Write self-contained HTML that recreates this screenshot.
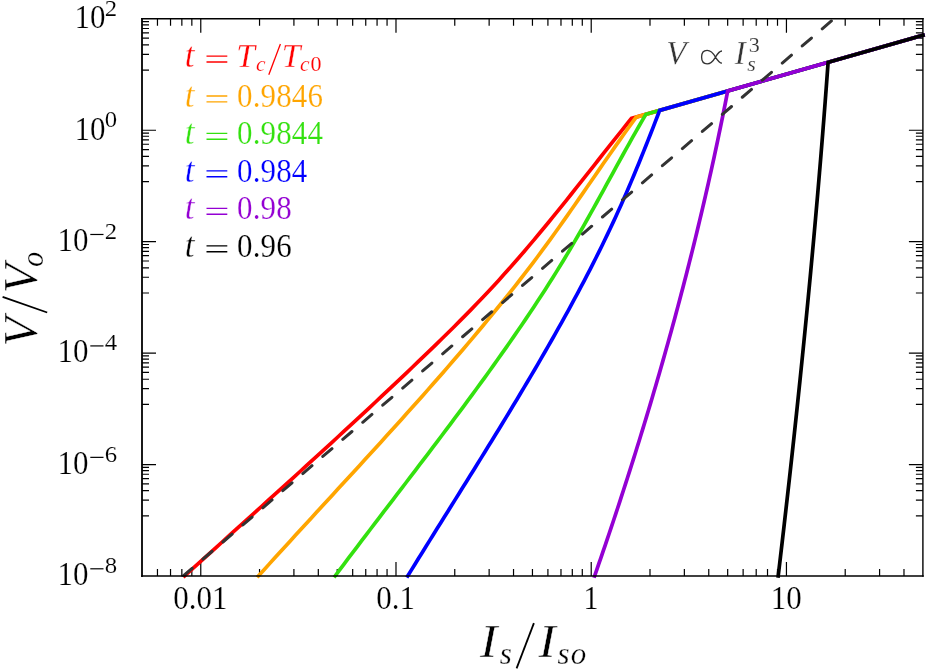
<!DOCTYPE html>
<html><head><meta charset="utf-8"><title>V-I characteristics</title>
<style>html,body{margin:0;padding:0;background:#fff;overflow:hidden;}svg{display:block;will-change:transform;}text{font-family:"Liberation Serif",serif;stroke:#fff;}.i{font-style:italic;}</style></head><body>
<svg width="926" height="670" viewBox="0 0 926 670">
<rect x="0" y="0" width="926" height="670" fill="#ffffff"/>
<g stroke="#000" stroke-width="1.2" fill="none">
<path d="M157.46,576.0 v-7.0 M157.46,18.8 v7.0"/>
<path d="M170.53,576.0 v-7.0 M170.53,18.8 v7.0"/>
<path d="M181.85,576.0 v-7.0 M181.85,18.8 v7.0"/>
<path d="M191.84,576.0 v-7.0 M191.84,18.8 v7.0"/>
<path d="M200.77,576.0 v-14.0 M200.77,18.8 v14.0"/>
<path d="M259.54,576.0 v-7.0 M259.54,18.8 v7.0"/>
<path d="M293.91,576.0 v-7.0 M293.91,18.8 v7.0"/>
<path d="M318.31,576.0 v-7.0 M318.31,18.8 v7.0"/>
<path d="M337.23,576.0 v-7.0 M337.23,18.8 v7.0"/>
<path d="M352.68,576.0 v-7.0 M352.68,18.8 v7.0"/>
<path d="M365.75,576.0 v-7.0 M365.75,18.8 v7.0"/>
<path d="M377.07,576.0 v-7.0 M377.07,18.8 v7.0"/>
<path d="M387.06,576.0 v-7.0 M387.06,18.8 v7.0"/>
<path d="M395.99,576.0 v-14.0 M395.99,18.8 v14.0"/>
<path d="M454.76,576.0 v-7.0 M454.76,18.8 v7.0"/>
<path d="M489.14,576.0 v-7.0 M489.14,18.8 v7.0"/>
<path d="M513.53,576.0 v-7.0 M513.53,18.8 v7.0"/>
<path d="M532.45,576.0 v-7.0 M532.45,18.8 v7.0"/>
<path d="M547.91,576.0 v-7.0 M547.91,18.8 v7.0"/>
<path d="M560.98,576.0 v-7.0 M560.98,18.8 v7.0"/>
<path d="M572.30,576.0 v-7.0 M572.30,18.8 v7.0"/>
<path d="M582.29,576.0 v-7.0 M582.29,18.8 v7.0"/>
<path d="M591.22,576.0 v-14.0 M591.22,18.8 v14.0"/>
<path d="M649.99,576.0 v-7.0 M649.99,18.8 v7.0"/>
<path d="M684.36,576.0 v-7.0 M684.36,18.8 v7.0"/>
<path d="M708.76,576.0 v-7.0 M708.76,18.8 v7.0"/>
<path d="M727.67,576.0 v-7.0 M727.67,18.8 v7.0"/>
<path d="M743.13,576.0 v-7.0 M743.13,18.8 v7.0"/>
<path d="M756.20,576.0 v-7.0 M756.20,18.8 v7.0"/>
<path d="M767.52,576.0 v-7.0 M767.52,18.8 v7.0"/>
<path d="M777.51,576.0 v-7.0 M777.51,18.8 v7.0"/>
<path d="M786.44,576.0 v-14.0 M786.44,18.8 v14.0"/>
<path d="M845.21,576.0 v-7.0 M845.21,18.8 v7.0"/>
<path d="M879.59,576.0 v-7.0 M879.59,18.8 v7.0"/>
<path d="M903.98,576.0 v-7.0 M903.98,18.8 v7.0"/>
<path d="M142.0,515.87 h7.0 M922.9,515.87 h-7.0"/>
<path d="M142.0,500.12 h7.0 M922.9,500.12 h-7.0"/>
<path d="M142.0,490.67 h7.0 M922.9,490.67 h-7.0"/>
<path d="M142.0,483.88 h7.0 M922.9,483.88 h-7.0"/>
<path d="M142.0,478.59 h7.0 M922.9,478.59 h-7.0"/>
<path d="M142.0,474.25 h7.0 M922.9,474.25 h-7.0"/>
<path d="M142.0,470.57 h7.0 M922.9,470.57 h-7.0"/>
<path d="M142.0,467.38 h7.0 M922.9,467.38 h-7.0"/>
<path d="M142.0,464.56 h14.0 M922.9,464.56 h-14.0"/>
<path d="M142.0,404.43 h7.0 M922.9,404.43 h-7.0"/>
<path d="M142.0,388.68 h7.0 M922.9,388.68 h-7.0"/>
<path d="M142.0,379.23 h7.0 M922.9,379.23 h-7.0"/>
<path d="M142.0,372.44 h7.0 M922.9,372.44 h-7.0"/>
<path d="M142.0,367.15 h7.0 M922.9,367.15 h-7.0"/>
<path d="M142.0,362.81 h7.0 M922.9,362.81 h-7.0"/>
<path d="M142.0,359.13 h7.0 M922.9,359.13 h-7.0"/>
<path d="M142.0,355.94 h7.0 M922.9,355.94 h-7.0"/>
<path d="M142.0,353.12 h14.0 M922.9,353.12 h-14.0"/>
<path d="M142.0,292.99 h7.0 M922.9,292.99 h-7.0"/>
<path d="M142.0,277.24 h7.0 M922.9,277.24 h-7.0"/>
<path d="M142.0,267.79 h7.0 M922.9,267.79 h-7.0"/>
<path d="M142.0,261.00 h7.0 M922.9,261.00 h-7.0"/>
<path d="M142.0,255.71 h7.0 M922.9,255.71 h-7.0"/>
<path d="M142.0,251.37 h7.0 M922.9,251.37 h-7.0"/>
<path d="M142.0,247.69 h7.0 M922.9,247.69 h-7.0"/>
<path d="M142.0,244.50 h7.0 M922.9,244.50 h-7.0"/>
<path d="M142.0,241.68 h14.0 M922.9,241.68 h-14.0"/>
<path d="M142.0,181.55 h7.0 M922.9,181.55 h-7.0"/>
<path d="M142.0,165.80 h7.0 M922.9,165.80 h-7.0"/>
<path d="M142.0,156.35 h7.0 M922.9,156.35 h-7.0"/>
<path d="M142.0,149.56 h7.0 M922.9,149.56 h-7.0"/>
<path d="M142.0,144.27 h7.0 M922.9,144.27 h-7.0"/>
<path d="M142.0,139.93 h7.0 M922.9,139.93 h-7.0"/>
<path d="M142.0,136.25 h7.0 M922.9,136.25 h-7.0"/>
<path d="M142.0,133.06 h7.0 M922.9,133.06 h-7.0"/>
<path d="M142.0,130.24 h14.0 M922.9,130.24 h-14.0"/>
<path d="M142.0,70.11 h7.0 M922.9,70.11 h-7.0"/>
<path d="M142.0,54.36 h7.0 M922.9,54.36 h-7.0"/>
<path d="M142.0,44.91 h7.0 M922.9,44.91 h-7.0"/>
<path d="M142.0,38.12 h7.0 M922.9,38.12 h-7.0"/>
<path d="M142.0,32.83 h7.0 M922.9,32.83 h-7.0"/>
<path d="M142.0,28.49 h7.0 M922.9,28.49 h-7.0"/>
<path d="M142.0,24.81 h7.0 M922.9,24.81 h-7.0"/>
<path d="M142.0,21.62 h7.0 M922.9,21.62 h-7.0"/>
</g>
<g fill="none" stroke-linejoin="miter" stroke-linecap="square">
<path d="M184.60,576.00 L190.98,570.21 L197.37,564.42 L203.76,558.63 L210.16,552.83 L216.56,547.04 L222.97,541.25 L229.38,535.46 L235.79,529.67 L242.20,523.88 L248.61,518.09 L255.02,512.29 L261.43,506.50 L267.84,500.71 L274.24,494.92 L280.63,489.13 L287.02,483.34 L293.40,477.54 L299.78,471.75 L306.14,465.96 L312.49,460.17 L318.84,454.38 L325.17,448.59 L331.49,442.80 L337.79,437.00 L344.08,431.21 L350.35,425.42 L356.61,419.63 L362.85,413.84 L369.07,408.05 L375.27,402.26 L381.46,396.46 L387.62,390.67 L393.77,384.88 L399.90,379.09 L406.01,373.30 L412.10,367.51 L418.17,361.71 L424.21,355.92 L430.22,350.13 L436.19,344.34 L442.12,338.55 L448.01,332.76 L453.86,326.97 L459.65,321.17 L465.38,315.38 L471.05,309.59 L476.66,303.80 L482.20,298.01 L487.67,292.22 L493.05,286.43 L498.37,280.63 L503.61,274.84 L508.79,269.05 L513.90,263.26 L518.96,257.47 L523.95,251.68 L528.89,245.88 L533.79,240.09 L538.64,234.30 L543.44,228.51 L548.21,222.72 L552.94,216.93 L557.64,211.14 L562.31,205.34 L566.95,199.55 L571.58,193.76 L576.19,187.97 L580.78,182.18 L585.36,176.39 L589.94,170.60 L594.51,164.80 L599.09,159.01 L603.66,153.22 L608.25,147.43 L612.84,141.64 L617.45,135.85 L622.08,130.05 L626.73,124.26 L631.40,118.47 L922.90,35.27" stroke="#ff0000" stroke-width="3.7"/>
<path d="M258.40,576.00 L263.65,570.19 L268.92,564.38 L274.19,558.57 L279.48,552.76 L284.78,546.96 L290.09,541.15 L295.41,535.34 L300.73,529.53 L306.06,523.72 L311.39,517.91 L316.73,512.10 L322.07,506.29 L327.41,500.49 L332.75,494.68 L338.09,488.87 L343.43,483.06 L348.76,477.25 L354.09,471.44 L359.41,465.63 L364.73,459.82 L370.04,454.01 L375.34,448.21 L380.63,442.40 L385.91,436.59 L391.17,430.78 L396.43,424.97 L401.66,419.16 L406.89,413.35 L412.09,407.54 L417.28,401.73 L422.45,395.93 L427.59,390.12 L432.72,384.31 L437.82,378.50 L442.90,372.69 L447.95,366.88 L452.98,361.07 L457.98,355.26 L462.95,349.46 L467.90,343.65 L472.81,337.84 L477.69,332.03 L482.54,326.22 L487.35,320.41 L492.13,314.60 L496.87,308.79 L501.57,302.98 L506.24,297.18 L510.86,291.37 L515.45,285.56 L519.99,279.75 L524.49,273.94 L528.95,268.13 L533.36,262.32 L537.72,256.51 L542.03,250.70 L546.30,244.90 L550.53,239.09 L554.72,233.28 L558.87,227.47 L563.00,221.66 L567.09,215.85 L571.16,210.04 L575.21,204.23 L579.25,198.43 L583.27,192.62 L587.29,186.81 L591.30,181.00 L595.31,175.19 L599.33,169.38 L603.34,163.57 L607.38,157.76 L611.42,151.95 L615.48,146.15 L619.57,140.34 L623.68,134.53 L627.81,128.72 L631.99,122.91 L636.20,117.10 L922.90,35.27" stroke="#ffa500" stroke-width="3.7"/>
<path d="M335.10,576.00 L339.47,570.16 L343.86,564.31 L348.26,558.47 L352.67,552.62 L357.09,546.78 L361.52,540.94 L365.96,535.09 L370.40,529.25 L374.86,523.41 L379.31,517.56 L383.78,511.72 L388.24,505.87 L392.71,500.03 L397.17,494.19 L401.64,488.34 L406.11,482.50 L410.57,476.65 L415.03,470.81 L419.48,464.97 L423.92,459.12 L428.36,453.28 L432.80,447.43 L437.22,441.59 L441.63,435.75 L446.03,429.90 L450.41,424.06 L454.78,418.22 L459.14,412.37 L463.48,406.53 L467.81,400.68 L472.11,394.84 L476.39,389.00 L480.66,383.15 L484.90,377.31 L489.12,371.46 L493.31,365.62 L497.48,359.78 L501.63,353.93 L505.74,348.09 L509.83,342.24 L513.89,336.40 L517.91,330.56 L521.91,324.71 L525.87,318.87 L529.80,313.03 L533.69,307.18 L537.54,301.34 L541.36,295.49 L545.14,289.65 L548.87,283.81 L552.57,277.96 L556.23,272.12 L559.84,266.27 L563.41,260.43 L566.93,254.59 L570.40,248.74 L573.84,242.90 L577.23,237.05 L580.58,231.21 L583.91,225.37 L587.20,219.52 L590.48,213.68 L593.72,207.84 L596.96,201.99 L600.18,196.15 L603.39,190.30 L606.59,184.46 L609.79,178.62 L612.99,172.77 L616.20,166.93 L619.41,161.08 L622.64,155.24 L625.88,149.40 L629.15,143.55 L632.43,137.71 L635.75,131.86 L639.09,126.02 L642.47,120.18 L645.90,114.33 L922.90,35.27" stroke="#33e10f" stroke-width="3.7"/>
<path d="M407.70,576.00 L411.33,570.11 L414.97,564.21 L418.62,558.32 L422.28,552.43 L425.94,546.53 L429.61,540.64 L433.28,534.74 L436.95,528.85 L440.63,522.96 L444.31,517.06 L447.99,511.17 L451.67,505.28 L455.35,499.38 L459.03,493.49 L462.70,487.59 L466.38,481.70 L470.05,475.81 L473.71,469.91 L477.37,464.02 L481.03,458.13 L484.67,452.23 L488.31,446.34 L491.94,440.44 L495.57,434.55 L499.18,428.66 L502.78,422.76 L506.37,416.87 L509.94,410.98 L513.51,405.08 L517.06,399.19 L520.59,393.29 L524.11,387.40 L527.61,381.51 L531.10,375.61 L534.57,369.72 L538.02,363.83 L541.45,357.93 L544.86,352.04 L548.24,346.14 L551.61,340.25 L554.95,334.36 L558.27,328.46 L561.57,322.57 L564.84,316.68 L568.09,310.78 L571.30,304.89 L574.50,298.99 L577.66,293.10 L580.79,287.21 L583.90,281.31 L586.97,275.42 L590.01,269.53 L593.02,263.63 L596.00,257.74 L598.94,251.84 L601.85,245.95 L604.72,240.06 L607.56,234.16 L610.36,228.27 L613.12,222.38 L615.85,216.48 L618.53,210.59 L621.18,204.69 L623.79,198.80 L626.36,192.91 L628.90,187.01 L631.40,181.12 L633.88,175.23 L636.33,169.33 L638.75,163.44 L641.15,157.54 L643.53,151.65 L645.88,145.76 L648.22,139.86 L650.54,133.97 L652.85,128.08 L655.14,122.18 L657.42,116.29 L659.70,110.39 L922.90,35.27" stroke="#0000ff" stroke-width="3.7"/>
<path d="M594.60,576.00 L596.74,569.86 L598.86,563.72 L600.98,557.58 L603.08,551.44 L605.18,545.30 L607.26,539.16 L609.34,533.02 L611.40,526.88 L613.45,520.75 L615.49,514.61 L617.52,508.47 L619.54,502.33 L621.54,496.19 L623.54,490.05 L625.52,483.91 L627.50,477.77 L629.46,471.63 L631.41,465.49 L633.35,459.35 L635.28,453.21 L637.20,447.07 L639.10,440.93 L641.00,434.79 L642.88,428.65 L644.75,422.51 L646.61,416.38 L648.46,410.24 L650.29,404.10 L652.12,397.96 L653.93,391.82 L655.73,385.68 L657.52,379.54 L659.30,373.40 L661.07,367.26 L662.82,361.12 L664.56,354.98 L666.29,348.84 L668.01,342.70 L669.72,336.56 L671.41,330.42 L673.10,324.28 L674.77,318.14 L676.42,312.01 L678.07,305.87 L679.70,299.73 L681.32,293.59 L682.93,287.45 L684.53,281.31 L686.11,275.17 L687.68,269.03 L689.24,262.89 L690.79,256.75 L692.33,250.61 L693.85,244.47 L695.36,238.33 L696.85,232.19 L698.34,226.05 L699.81,219.91 L701.27,213.77 L702.71,207.64 L704.14,201.50 L705.56,195.36 L706.97,189.22 L708.36,183.08 L709.75,176.94 L711.11,170.80 L712.47,164.66 L713.81,158.52 L715.14,152.38 L716.46,146.24 L717.76,140.10 L719.05,133.96 L720.32,127.82 L721.59,121.68 L722.84,115.54 L724.07,109.40 L725.29,103.27 L726.50,97.13 L727.70,90.99 L922.90,35.27" stroke="#9400d3" stroke-width="3.7"/>
<path d="M778.20,576.00 L778.97,569.50 L779.74,563.00 L780.50,556.49 L781.26,549.99 L782.02,543.49 L782.77,536.99 L783.53,530.48 L784.28,523.98 L785.02,517.48 L785.76,510.98 L786.50,504.48 L787.24,497.97 L787.97,491.47 L788.70,484.97 L789.43,478.47 L790.15,471.97 L790.87,465.46 L791.59,458.96 L792.30,452.46 L793.01,445.96 L793.72,439.45 L794.42,432.95 L795.12,426.45 L795.81,419.95 L796.51,413.45 L797.20,406.94 L797.88,400.44 L798.56,393.94 L799.24,387.44 L799.92,380.94 L800.59,374.43 L801.26,367.93 L801.92,361.43 L802.58,354.93 L803.24,348.42 L803.89,341.92 L804.54,335.42 L805.18,328.92 L805.82,322.42 L806.46,315.91 L807.10,309.41 L807.73,302.91 L808.35,296.41 L808.97,289.91 L809.59,283.40 L810.21,276.90 L810.82,270.40 L811.42,263.90 L812.02,257.39 L812.62,250.89 L813.22,244.39 L813.81,237.89 L814.39,231.39 L814.97,224.88 L815.55,218.38 L816.12,211.88 L816.69,205.38 L817.26,198.88 L817.82,192.37 L818.37,185.87 L818.93,179.37 L819.47,172.87 L820.02,166.36 L820.56,159.86 L821.09,153.36 L821.62,146.86 L822.15,140.36 L822.67,133.85 L823.18,127.35 L823.70,120.85 L824.20,114.35 L824.71,107.85 L825.21,101.34 L825.70,94.84 L826.19,88.34 L826.67,81.84 L827.15,75.33 L827.63,68.83 L828.10,62.33 L922.90,35.27" stroke="#000000" stroke-width="3.7"/>
</g>
<clipPath id="ax"><rect x="142.0" y="18.8" width="780.9" height="557.9000000000001"/></clipPath>
<line x1="181.85" y1="577.16" x2="860.00" y2="-3.51" stroke="#333333" stroke-width="3.0" stroke-dasharray="12.1 14.2" stroke-dashoffset="-1.45" stroke-linecap="round" clip-path="url(#ax)"/>
<g stroke="#000" stroke-linecap="square" fill="none"><path d="M142.0,18.8 V576.0" stroke-width="1.8"/><path d="M142.0,18.8 H922.9" stroke-width="1.6"/><path d="M922.9,18.8 V576.0" stroke-width="1.4"/><path d="M142.0,576.0 H922.9" stroke-width="1.7"/></g>
<g fill="#000">
<text transform="translate(200.47,608.70) scale(1.0,1.06)" font-size="31" text-anchor="middle" stroke-width="0.19">0.01</text>
<text transform="translate(395.69,608.70) scale(1.0,1.06)" font-size="31" text-anchor="middle" stroke-width="0.19">0.1</text>
<text transform="translate(590.92,608.70) scale(1.0,1.06)" font-size="31" text-anchor="middle" stroke-width="0.19">1</text>
<text transform="translate(786.14,608.70) scale(1.0,1.06)" font-size="31" text-anchor="middle" stroke-width="0.19">10</text>
<text transform="translate(88.60,585.30) scale(1.0,1.06)" font-size="31" text-anchor="end" stroke-width="0.19">10</text>
<path d="M90.30,568.80 L103.50,568.80" stroke="#000" stroke-width="1.2" fill="none"/>
<text transform="translate(104.80,573.20) scale(1.1,1.0)" font-size="22.5" stroke-width="0.14">8</text>
<text transform="translate(88.60,473.86) scale(1.0,1.06)" font-size="31" text-anchor="end" stroke-width="0.19">10</text>
<path d="M90.30,457.36 L103.50,457.36" stroke="#000" stroke-width="1.2" fill="none"/>
<text transform="translate(104.80,461.76) scale(1.1,1.0)" font-size="22.5" stroke-width="0.14">6</text>
<text transform="translate(88.60,362.42) scale(1.0,1.06)" font-size="31" text-anchor="end" stroke-width="0.19">10</text>
<path d="M90.30,345.92 L103.50,345.92" stroke="#000" stroke-width="1.2" fill="none"/>
<text transform="translate(104.80,350.32) scale(1.1,1.0)" font-size="22.5" stroke-width="0.14">4</text>
<text transform="translate(88.60,250.98) scale(1.0,1.06)" font-size="31" text-anchor="end" stroke-width="0.19">10</text>
<path d="M90.30,234.48 L103.50,234.48" stroke="#000" stroke-width="1.2" fill="none"/>
<text transform="translate(104.80,238.88) scale(1.1,1.0)" font-size="22.5" stroke-width="0.14">2</text>
<text transform="translate(105.50,139.54) scale(1.0,1.06)" font-size="31" text-anchor="end" stroke-width="0.19">10</text>
<text transform="translate(104.80,127.44) scale(1.1,1.0)" font-size="22.5" stroke-width="0.14">0</text>
<text transform="translate(105.50,28.10) scale(1.0,1.06)" font-size="31" text-anchor="end" stroke-width="0.19">10</text>
<text transform="translate(104.80,16.00) scale(1.1,1.0)" font-size="22.5" stroke-width="0.14">2</text>
</g>
<g fill="#000">
<text transform="translate(480.00,657.10) scale(1.1,1.0)" font-size="47" class="i" stroke-width="0.42">I</text>
<text x="499.70" y="663.50" font-size="31" class="i" stroke-width="0.28">s</text>
<path d="M516.60,668.40 L533.90,623.10" stroke="#000" stroke-width="1.8" fill="none"/>
<text transform="translate(538.40,657.10) scale(1.1,1.0)" font-size="47" class="i" stroke-width="0.42">I</text>
<text x="557.40" y="663.50" font-size="31" class="i" stroke-width="0.28">s</text>
<text x="570.80" y="663.50" font-size="31" class="i" stroke-width="0.28">o</text>
<g transform="translate(36.8,344.1) rotate(-90)">
<text x="-2.40" y="0.00" font-size="48" class="i" stroke-width="0.43">V</text>
<path d="M31.60,10.40 L47.20,-34.20" stroke="#000" stroke-width="1.8" fill="none"/>
<text x="50.90" y="0.00" font-size="48" class="i" stroke-width="0.43">V</text>
<text x="77.00" y="6.50" font-size="30.5" class="i" stroke-width="0.27">o</text>
</g>
</g>
<g fill="#ff0000">
<text x="184.70" y="67.00" font-size="35" class="i" stroke-width="0.32">t</text>
<path d="M206.5,56.10 h20.8 M206.5,62.00 h20.8" stroke="#ff0000" stroke-width="1.4" fill="none"/>
<text x="236.30" y="67.00" font-size="33.5" class="i" stroke-width="0.30">T</text>
<text x="255.90" y="71.30" font-size="21.5" class="i" stroke-width="0.19">c</text>
<path d="M268.80,74.70 L280.40,44.00" stroke="#ff0000" stroke-width="1.3" fill="none"/>
<text x="281.80" y="67.00" font-size="33.5" class="i" stroke-width="0.30">T</text>
<text x="300.00" y="71.30" font-size="21.5" class="i" stroke-width="0.19">c</text>
<text x="310.60" y="71.30" font-size="22" stroke-width="0.13">0</text>
</g>
<g fill="#ffa500">
<text x="184.70" y="106.90" font-size="35" class="i" stroke-width="0.32">t</text>
<path d="M206.5,96.00 h20.8 M206.5,101.90 h20.8" stroke="#ffa500" stroke-width="1.4" fill="none"/>
<text letter-spacing="0.15" transform="translate(237.00,106.90) scale(1.0,1.06)" font-size="31" stroke-width="0.19">0.9846</text>
</g>
<g fill="#33e10f">
<text x="184.70" y="144.30" font-size="35" class="i" stroke-width="0.32">t</text>
<path d="M206.5,133.40 h20.8 M206.5,139.30 h20.8" stroke="#33e10f" stroke-width="1.4" fill="none"/>
<text letter-spacing="0.15" transform="translate(237.00,144.30) scale(1.0,1.06)" font-size="31" stroke-width="0.19">0.9844</text>
</g>
<g fill="#0000ff">
<text x="184.70" y="181.80" font-size="35" class="i" stroke-width="0.32">t</text>
<path d="M206.5,170.90 h20.8 M206.5,176.80 h20.8" stroke="#0000ff" stroke-width="1.4" fill="none"/>
<text letter-spacing="0.15" transform="translate(237.00,181.80) scale(1.0,1.06)" font-size="31" stroke-width="0.19">0.984</text>
</g>
<g fill="#9400d3">
<text x="184.70" y="219.30" font-size="35" class="i" stroke-width="0.32">t</text>
<path d="M206.5,208.40 h20.8 M206.5,214.30 h20.8" stroke="#9400d3" stroke-width="1.4" fill="none"/>
<text letter-spacing="0.15" transform="translate(237.00,219.30) scale(1.0,1.06)" font-size="31" stroke-width="0.19">0.98</text>
</g>
<g fill="#000000">
<text x="184.70" y="256.80" font-size="35" class="i" stroke-width="0.32">t</text>
<path d="M206.5,245.90 h20.8 M206.5,251.80 h20.8" stroke="#000000" stroke-width="1.4" fill="none"/>
<text letter-spacing="0.15" transform="translate(237.00,256.80) scale(1.0,1.06)" font-size="31" stroke-width="0.19">0.96</text>
</g>
<g fill="#333">
<text x="666.20" y="64.00" font-size="33" class="i" stroke-width="0.30">V</text>
<path d="M722.00,50.97 C719.55,50.97 717.51,53.67 715.47,57.05 C713.02,61.37 710.17,63.80 707.11,63.80 C703.64,63.80 701.60,61.10 701.60,57.05 C701.60,53.00 703.64,50.30 707.11,50.30 C710.17,50.30 713.02,52.73 715.47,57.05 C717.51,60.42 719.55,63.12 722.00,63.12" fill="none" stroke="#333" stroke-width="1.35"/>
<text x="734.70" y="64.00" font-size="32.7" class="i" stroke-width="0.29">I</text>
<text x="748.70" y="52.00" font-size="22" stroke-width="0.13">3</text>
<text x="747.30" y="70.90" font-size="22" class="i" stroke-width="0.20">s</text>
</g>
</svg></body></html>
